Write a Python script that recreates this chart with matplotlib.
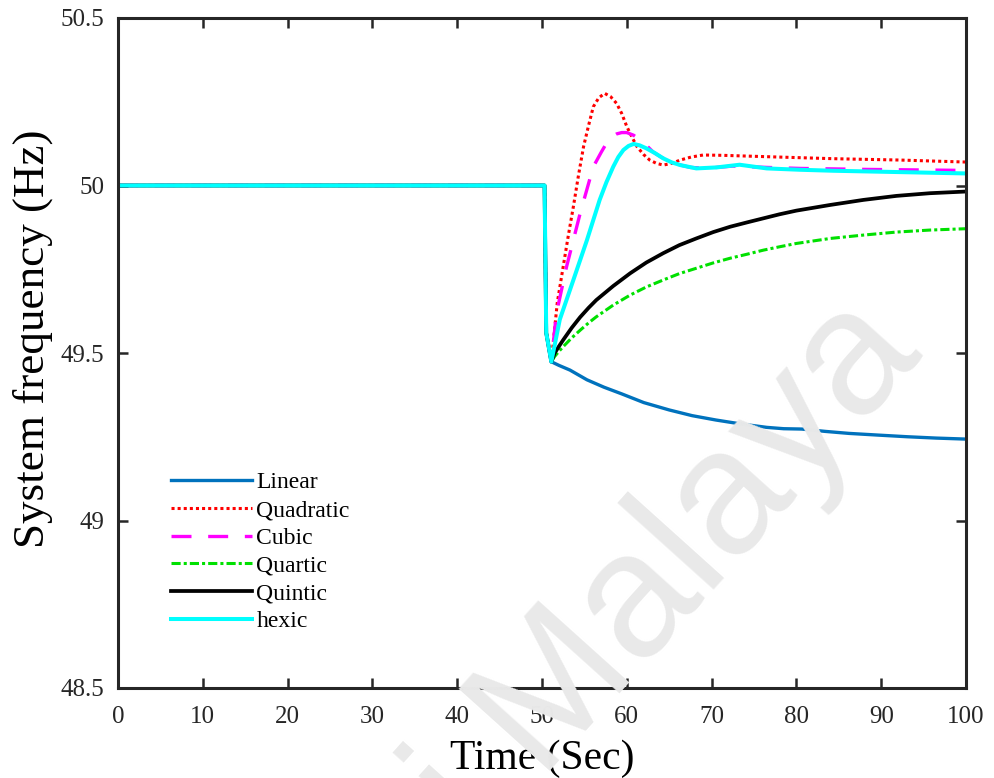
import matplotlib
matplotlib.use("Agg")
import matplotlib.pyplot as plt

plt.rcParams['font.family'] = ['Liberation Serif', 'DejaVu Serif']

# Shared trajectory: steady 50 Hz, then the disturbance at t = 50 s
t_common = [0.0, 50.3, 50.5, 51.1]
f_common = [50.0, 50.0, 49.56, 49.474]

# Recovery after the disturbance for each order
t_linear = [52.0, 53.3, 55.3, 57.3, 59.4, 62.0, 65.0, 67.7, 70.5, 73.5, 76.5, 78.5,
            80.6, 83.4, 86.2, 89.6, 93.1, 96.5, 100.0]
f_linear = [49.463, 49.449, 49.42, 49.398, 49.378, 49.352, 49.33, 49.313, 49.30,
            49.288, 49.278, 49.274, 49.273, 49.266, 49.26, 49.255, 49.25, 49.246, 49.243]

t_quadratic = [51.8, 52.5, 53.1, 53.7, 54.3, 54.9, 55.5, 56.05, 56.7, 57.4, 58.1, 58.8,
               59.4, 60.0, 60.6, 61.2, 62.0, 62.7, 63.5, 64.3, 65.3, 66.3, 67.6, 69.0,
               71.4, 76.5, 84.4, 92.2, 100.0]
f_quadratic = [49.65, 49.758, 49.85, 49.937, 50.03, 50.116, 50.18, 50.235, 50.262,
               50.275, 50.265, 50.245, 50.215, 50.176, 50.145, 50.116, 50.092, 50.076,
               50.066, 50.061, 50.066, 50.076, 50.085, 50.091, 50.09, 50.086, 50.08,
               50.076, 50.07]

t_cubic = [51.7, 52.9, 54.5, 56.05, 57.0, 57.6, 58.2, 58.8, 59.4, 60.0, 60.8, 61.6,
           62.3, 63.1, 64.1, 65.1, 66.3, 67.5, 69.0, 70.6, 72.5, 76.5, 80.4, 88.3, 100.0]
f_cubic = [49.618, 49.758, 49.917, 50.056, 50.10, 50.126, 50.145, 50.154, 50.158,
           50.158, 50.15, 50.136, 50.12, 50.10, 50.084, 50.071, 50.061, 50.054, 50.052,
           50.054, 50.058, 50.054, 50.051, 50.048, 50.045]

t_quartic = [51.5, 52.0, 52.5, 53.5, 54.5, 55.5, 56.4, 58.4, 60.4, 62.3, 64.3, 66.2,
             68.2, 70.2, 72.2, 74.2, 76.1, 78.0, 80.0, 84.0, 87.9, 91.8, 95.75, 100.0]
f_quartic = [49.49, 49.505, 49.519, 49.545, 49.568, 49.59, 49.608, 49.643, 49.673,
             49.697, 49.718, 49.737, 49.753, 49.769, 49.783, 49.795, 49.807, 49.817,
             49.827, 49.842, 49.852, 49.861, 49.867, 49.871]

t_quintic = [51.5, 52.0, 52.5, 53.5, 54.5, 55.5, 56.4, 58.4, 60.4, 62.3, 64.3, 66.2,
             68.2, 70.2, 72.2, 74.2, 76.1, 78.0, 80.0, 84.0, 87.9, 91.8, 95.75, 100.0]
f_quintic = [49.50, 49.52, 49.539, 49.575, 49.607, 49.635, 49.658, 49.70, 49.738,
             49.77, 49.798, 49.822, 49.842, 49.861, 49.877, 49.89, 49.902, 49.914,
             49.925, 49.942, 49.957, 49.969, 49.977, 49.982]

t_hexic = [52.1, 53.7, 55.3, 56.8, 57.6, 58.4, 59.0, 59.6, 60.2, 60.8, 61.5, 62.3,
           63.3, 64.3, 65.3, 66.3, 68.2, 70.6, 73.3, 76.5, 80.4, 84.4, 92.2, 100.0]
f_hexic = [49.60, 49.718, 49.837, 49.957, 50.01, 50.056, 50.085, 50.106, 50.118,
           50.124, 50.12, 50.111, 50.097, 50.081, 50.069, 50.061, 50.051, 50.054,
           50.062, 50.051, 50.047, 50.044, 50.04, 50.036]

labels = ["Linear", "Quadratic", "Cubic", "Quartic", "Quintic", "hexic"]
x_ticks = [0, 10, 20, 30, 40, 50, 60, 70, 80, 90, 100]
y_ticks = [48.5, 49.0, 49.5, 50.0, 50.5]
y_ticklabels = ["48.5", "49", "49.5", "50", "50.5"]

series = [
    (t_linear, f_linear, dict(color="#0072BD", lw=2.4, ls="-")),
    (t_quadratic, f_quadratic, dict(color="#FF0000", lw=2.2, ls=(0, (1, 1)))),
    (t_cubic, f_cubic, dict(color="#FF00FF", lw=2.4, ls=(0, (6, 5)))),
    (t_quartic, f_quartic, dict(color="#00E000", lw=2.2, ls=(0, (3, 1, 1, 1)))),
    (t_quintic, f_quintic, dict(color="#000000", lw=2.7, ls="-")),
    (t_hexic, f_hexic, dict(color="#00FFFF", lw=2.9, ls="-")),
]

fig = plt.figure(figsize=(9.94, 7.78), dpi=100)
ax = fig.add_axes([118 / 994, 90 / 778, 848 / 994, 670 / 778])
ax.set_facecolor("none")

# faint watermark behind the plot
fig.text(0.93, 0.543, "Universiti Malaya", fontsize=128, color="#e9e9e9",
         family="Liberation Sans", rotation=48, rotation_mode="anchor",
         ha="right", va="baseline", zorder=0)

for (ts, fs, style), lab in zip(series, labels):
    ax.plot(t_common + ts, f_common + fs, label=lab, solid_joinstyle="round", **style)

ax.set_xlim(0, 100)
ax.set_ylim(48.5, 50.5)
ax.set_xticks(x_ticks)
ax.set_yticks(y_ticks)
ax.set_yticklabels(y_ticklabels)
ax.tick_params(direction="in", length=7, width=1.8, labelsize=18,
               top=True, right=True, colors="#262626")
ax.tick_params(axis="x", pad=13)
ax.tick_params(axis="y", pad=10)
for s in ax.spines.values():
    s.set_linewidth(2.2)
    s.set_color("#262626")

ax.set_xlabel("Time (Sec)", fontsize=30, labelpad=8)
ax.set_ylabel("System frequency (Hz)", fontsize=32.5)
ax.yaxis.set_label_coords(-0.077, 0.521)

ax.legend(loc="upper left", bbox_to_anchor=(0.063, 0.3225), frameon=False,
          fontsize=17, handlelength=3.4, handletextpad=0.2, labelspacing=0.26,
          borderpad=0, borderaxespad=0)

fig.savefig("out.png", dpi=100)
